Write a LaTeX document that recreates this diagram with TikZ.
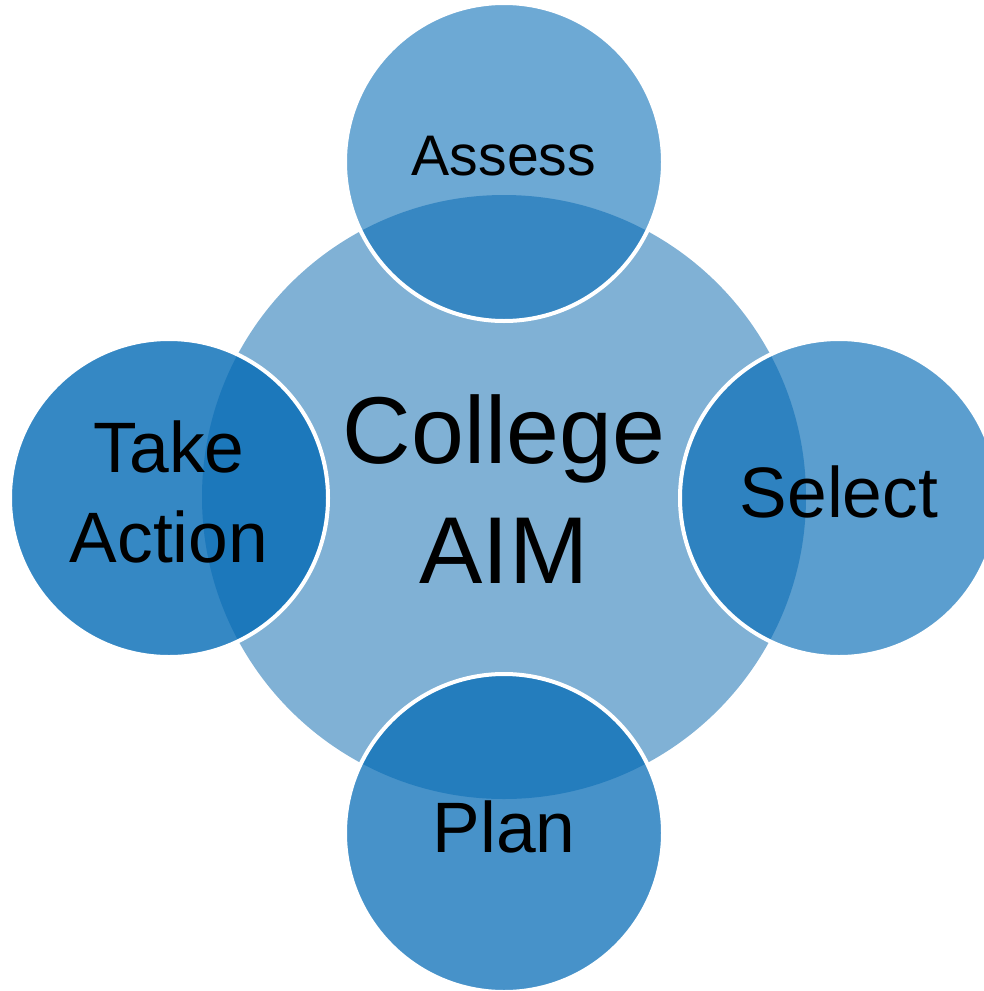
\documentclass[tikz,border=0pt]{standalone}
\usepackage{fontspec}
\setmainfont{Liberation Sans}
\usetikzlibrary{positioning}
\definecolor{AimCore}{HTML}{80B1D5}
\definecolor{AimBlue}{HTML}{036AB5}

\begin{document}
\begin{tikzpicture}[
    x=0.5pt, y=-0.5pt,
    hub/.style={
      circle,
      fill=AimCore,
      minimum size=302pt,
      inner sep=0pt,
      text depth=8pt,
      align=center,
      font=\fontsize{47.5}{60}\selectfont
    },
    stage/.style={
      circle,
      draw=white,
      line width=2pt,
      fill=AimBlue,
      fill opacity=#1,
      text opacity=1,
      minimum size=159pt,
      inner sep=0pt,
      text depth=6pt,
      align=center,
      font=\fontsize{35.7}{45}\selectfont
    }
  ]
  \useasboundingbox (0,0) rectangle (984,991);

  % College AIM
  \node[hub] (aim) at (504,497) {College\\AIM};

  % Assess
  \node[stage=0.58,font=\fontsize{28.6}{34}\selectfont] (assess) at (504,162)
    {Assess};

  % Select
  \node[stage=0.65] (select) at (839,498) {Select};

  % Plan
  \node[stage=0.73] (plan) at (504,833) {Plan};

  % Take Action
  \node[stage=0.8] (action) at (169,498) {Take\\Action};

\end{tikzpicture}
\end{document}
